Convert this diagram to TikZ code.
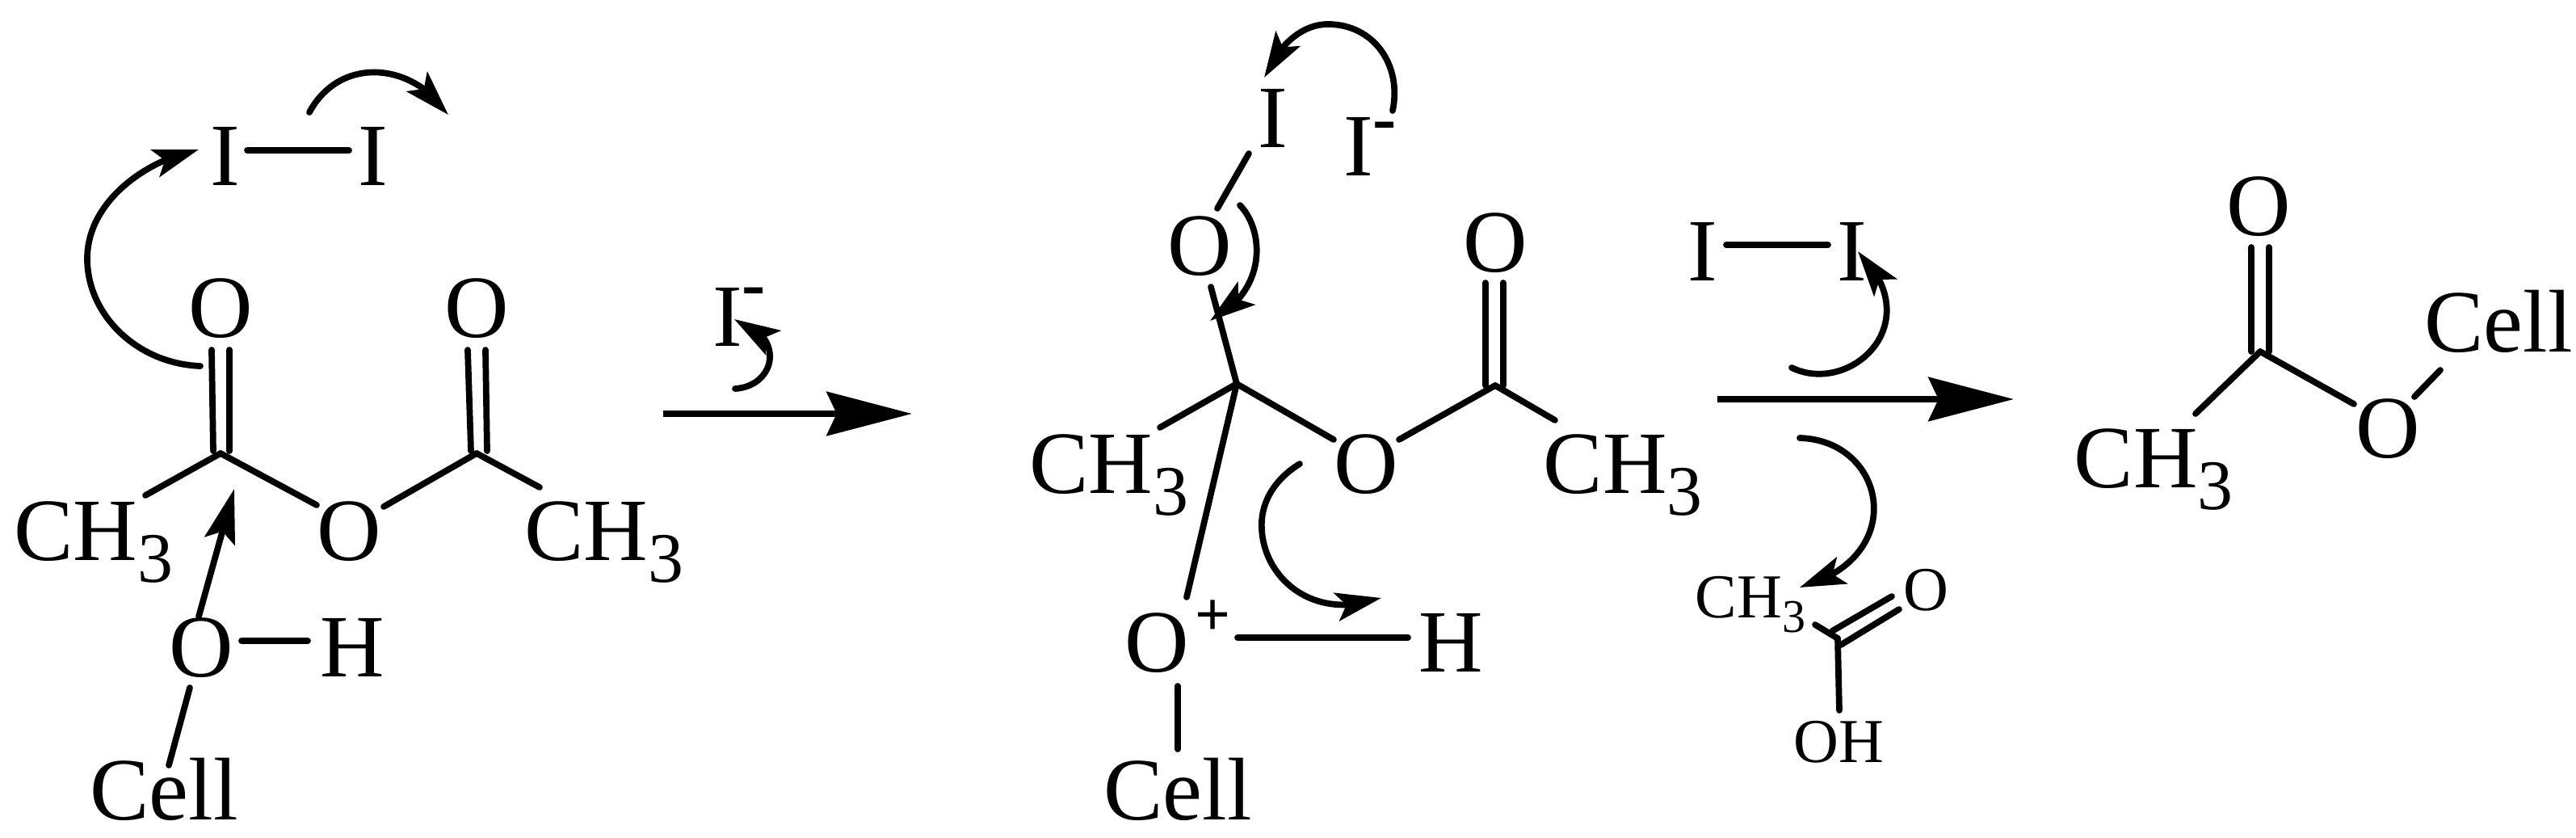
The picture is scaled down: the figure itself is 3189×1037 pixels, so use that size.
\documentclass[tikz,border=0pt]{standalone}
\usepackage{fontspec}
\setmainfont{Liberation Serif}
\usetikzlibrary{arrows.meta,bending}
\tikzset{
  atom/.style={inner sep=0pt,outer sep=0pt,anchor=base,font=\fontsize{31.3pt}{33pt}\selectfont,text=black},
  smallatom/.style={atom,font=\fontsize{22pt}{24pt}\selectfont},
  junction/.style={inner sep=0pt,outer sep=0pt,minimum size=0pt},
  bond/.style={line width=2.2pt,line cap=round,draw=black},
  curly/.style={line width=2.2pt,line cap=round,draw=black,-{Stealth[length=16pt,width=10pt,inset=3.5pt]}},
  mainarrow/.style={line width=2.4pt,draw=black,-{Stealth[length=30pt,width=15.4pt,inset=3.5pt]}}
}
\newcommand{\bnd}[6]{\draw[bond] ([shift={(#2,#3)}]#1.base) -- ([shift={(#5,#6)}]#4.base);}
\newcommand{\chthree}{CH\raisebox{-7.4pt}{\fontsize{25pt}{25pt}\selectfont 3}}
\newcommand{\chthreesmall}{CH\raisebox{-5pt}{\fontsize{16.5pt}{17pt}\selectfont 3}}
\newcommand{\iminus}[1]{I\raisebox{#1}{\fontsize{25pt}{25pt}\selectfont\bfseries -}}
\begin{document}
\begin{tikzpicture}[x=0.01cm,y=-0.01cm]
\useasboundingbox (0,0) rectangle (3189,1037);
\fill[white] (0,0) rectangle (3189,1037);

% first structure
\node[atom] (I1) at (279,230) {I};
\node[atom] (I2) at (462,230) {I};
\node[atom] (O1) at (273,418) {O};
\node[atom] (O2) at (590,418) {O};
\node[atom] (O3) at (432,694) {O};
\node[atom] (Oh) at (249,838) {O};
\node[atom] (H1) at (436,838) {H};
\node[atom] (ml) at (116,694) {\chthree};
\node[atom] (mr) at (748,694) {\chthree};
\node[atom] (cell1) at (203,1015) {Cell};
\node[junction] (C1) at (273,561) {};
\node[junction] (C2) at (590,561) {};
\bnd{I1}{27}{-44}{I2}{-30}{-44}
\bnd{O1}{-11}{15}{C1}{-9}{-3}
\bnd{O1}{11}{15}{C1}{11}{-3}
\bnd{O2}{-11}{15}{C2}{-7}{-3}
\bnd{O2}{11}{15}{C2}{13}{-3}
\bnd{C1}{0}{0}{ml}{64}{-81}
\bnd{C1}{0}{0}{O3}{-40}{-69}
\bnd{O3}{43}{-67}{C2}{0}{0}
\bnd{C2}{0}{0}{mr}{-80}{-91}
\bnd{Oh}{50}{-45}{H1}{-55}{-45}
\bnd{Oh}{-14}{13}{cell1}{6}{-68}
\draw[curly,-{Stealth[length=19pt,width=11pt,inset=3.5pt]}] ([shift={(-3,-75)}]Oh.base) -- ([shift={(17,44)}]C1.base);
\coordinate (a1s) at (383,139); \coordinate (a1e) at (555,142);
\draw[curly] (a1s) .. controls (420,70) and (510,75) .. (a1e);
\coordinate (a2s) at (248,453); \coordinate (a2m) at (108,320); \coordinate (a2e) at (246,185);
\draw[curly] (a2s) .. controls (170,450) and (108,390) .. (a2m) .. controls (108,250) and (180,198) .. (a2e);

% first reagent and arrow
\node[atom] (Im1) at (915,429) {\iminus{13.9pt}};
\coordinate (a3s) at (910,481); \coordinate (a3e) at (909,395);
\draw[curly] (a3s) .. controls (960,478) and (975,415) .. (a3e);
\coordinate (r1s) at (821,512); \coordinate (r1e) at (1129,512);
\draw[mainarrow] (r1s) -- (r1e);

% second structure
\node[atom] (I3) at (1576,183) {I};
\node[atom] (Im2) at (1696,218) {\iminus{12.2pt}};
\node[atom] (O4) at (1485,341) {O};
\node[atom] (O5) at (1691,611) {O};
\node[atom] (O6) at (1851,337) {O};
\node[atom] (O7) at (1458,832) {O\kern2.3pt\raisebox{13pt}{\fontsize{22pt}{22pt}\selectfont\bfseries +}};
\node[atom] (H2) at (1796,832) {H};
\node[atom] (mm) at (1373,611) {\chthree};
\node[atom] (mn) at (2009,611) {\chthree};
\node[atom] (cell2) at (1458,1015) {Cell};
\node[junction] (C3) at (1531,475) {};
\node[junction] (C4) at (1851,477) {};
\bnd{I3}{-30}{7}{O4}{22}{-83}
\bnd{O4}{14}{14}{C3}{0}{0}
\bnd{C3}{0}{0}{mm}{63}{-82}
\bnd{C3}{0}{0}{O5}{-40}{-67}
\bnd{O5}{41}{-67}{C4}{0}{0}
\bnd{O6}{-12}{13}{C4}{-12}{0}
\bnd{O6}{10}{13}{C4}{10}{0}
\bnd{C4}{0}{0}{mn}{-84}{-91}
\bnd{C3}{0}{0}{O7}{11}{-93}
\bnd{O7}{74}{-43}{H2}{-53}{-43}
\bnd{O7}{0}{17}{cell2}{0}{-88}
\coordinate (a4s) at (1724,137); \coordinate (a4m) at (1644,30); \coordinate (a4e) at (1565,96);
\draw[curly] (a4s) .. controls (1736,80) and (1700,30) .. (a4m) .. controls (1612,30) and (1583,55) .. (a4e);
\coordinate (a5s) at (1535,254); \coordinate (a5e) at (1498,397);
\draw[curly] (a5s) .. controls (1565,285) and (1570,360) .. (a5e);
\coordinate (a6s) at (1609,574); \coordinate (a6m) at (1562,655); \coordinate (a6e) at (1710,740);
\draw[curly] (a6s) .. controls (1575,595) and (1560,625) .. (a6m) .. controls (1565,715) and (1625,770) .. (a6e);

% second reagent, arrow and by-product
\node[atom] (I4) at (2108,348) {I};
\node[atom] (I5) at (2293,348) {I};
\bnd{I4}{29}{-45}{I5}{-30}{-45}
\coordinate (r2s) at (2126,494); \coordinate (r2e) at (2493,494);
\draw[mainarrow] (r2s) -- (r2e);
\coordinate (a7s) at (2218,455); \coordinate (a7e) at (2300,311);
\draw[curly] (a7s) .. controls (2290,490) and (2390,400) .. (a7e);
\coordinate (a8s) at (2228,542); \coordinate (a8e) at (2228,727);
\draw[curly] (a8s) .. controls (2335,545) and (2365,690) .. (a8e);
\node[smallatom] (ms) at (2167,765) {\chthreesmall};
\node[smallatom] (O8) at (2384,756) {O};
\node[smallatom] (OH) at (2276,944) {OH};
\node[junction] (C5) at (2275,790) {};
\bnd{ms}{80}{8}{C5}{0}{0}
\bnd{C5}{-7}{-9}{O8}{-42}{-18}
\bnd{C5}{4}{8}{O8}{-33}{-2}
\bnd{C5}{0}{0}{OH}{1}{-65}

% product
\node[atom] (O9) at (2796,292) {O};
\node[atom] (O10) at (2956,567) {O};
\node[atom] (mp) at (2666,604) {\chthree};
\node[atom] (cell3) at (3093,436) {Cell};
\node[junction] (C6) at (2798,435) {};
\bnd{O9}{-9}{14}{C6}{-11}{0}
\bnd{O9}{13}{14}{C6}{11}{0}
\bnd{C6}{0}{0}{mp}{52}{-92}
\bnd{C6}{0}{0}{O10}{-42}{-67}
\bnd{O10}{33}{-76}{cell3}{-72}{22}
\end{tikzpicture}
\end{document}
